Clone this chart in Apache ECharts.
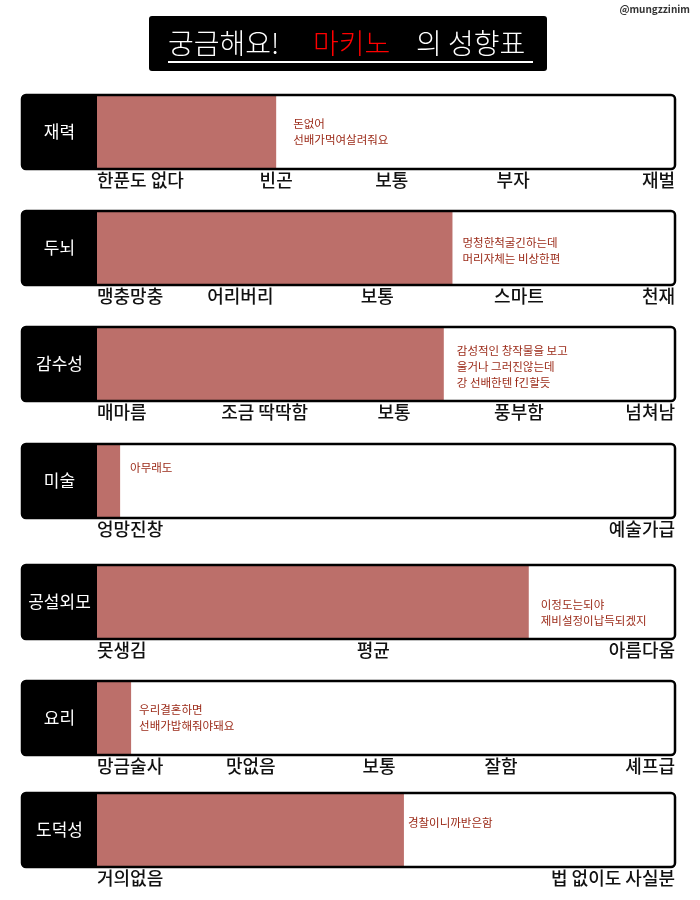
<!DOCTYPE html>
<html><head><meta charset="utf-8">
<script src="https://cdn.jsdelivr.net/npm/echarts@6/dist/echarts.min.js"></script>
<style>html,body{margin:0;padding:0;background:#fff}#c{width:700px;height:900px}</style>
</head><body><div id="c"></div>
<script>
// ---- data ----
const rows = ['재력','두뇌','감수성','미술','공설외모','요리','도덕성'];
const values = [31, 61.5, 60, 4, 74.7, 5.9, 53.1];
const notes = [
  '돈없어\n선배가먹여살려줘요',
  '멍청한척굴긴하는데\n머리자체는 비상한편',
  '감성적인 창작물을 보고\n울거나 그러진않는데\n강 선배한텐 f긴할듯',
  '아무래도',
  '이정도는되야\n제비설정이납득되겠지',
  '우리결혼하면\n선배가밥해줘야돼요',
  '경찰이니까반은함'
];
const tickLabels = [
  ['한푼도 없다','빈곤','보통','부자','재벌'],
  ['맹충망충','어리버리','보통','스마트','천재'],
  ['매마름','조금 딱딱함','보통','풍부함','넘쳐남'],
  ['엉망진창','예술가급'],
  ['못생김','평균','아름다움'],
  ['망금술사','맛없음','보통','잘함','셰프급'],
  ['거의없음','법 없이도 사실분']
];
const tickValues = [
  [0, 31, 51, 72, 100],
  [0, 24.8, 48.5, 73, 100],
  [0, 29, 51.4, 73, 100],
  [0, 100],
  [0, 47.8, 100],
  [0, 26.6, 48.8, 69.9, 100],
  [0, 100]
];
const titleParts = ['궁금해요!', '마키노', '의 성향표'];
const credit = '@mungzzinim';

// ---- layout ----
const tops = [95, 211, 327, 444, 565, 681, 793];
const boxH = 74, plotLeft = 97, plotRight = 25, boxLeft = 22, boxRight = 675;
const noteOff = [[17,21],[10,24],[13,16],[10,16],[12,32],[8,21],[4,22]];
const FONT = '"Noto Sans CJK KR", "Noto Sans", sans-serif';
const barColor = '#bc6f6a';
const noteColor = '#9b2a18';

const grid = [], xAxis = [], yAxis = [], series = [], graphic = [];
rows.forEach((name, i) => {
  grid.push({left: plotLeft, right: plotRight, top: tops[i], height: boxH, containLabel: false});
  xAxis.push({
    type: 'value', gridIndex: i, min: 0, max: 100,
    axisLine: {show: false}, axisTick: {show: false}, splitLine: {show: false},
    axisLabel: {
      show: true, customValues: tickValues[i], showMinLabel: true, showMaxLabel: true,
      alignMinLabel: 'left', alignMaxLabel: 'right',
      margin: 2, color: '#111', fontSize: 18, fontWeight: 500, fontFamily: FONT,
      formatter: v => { const k = tickValues[i].indexOf(v); return k >= 0 ? tickLabels[i][k] : ''; }
    }
  });
  yAxis.push({
    type: 'category', gridIndex: i, data: [name],
    axisLine: {show: false}, axisTick: {show: false}, splitLine: {show: false},
    axisLabel: {
      margin: 0, formatter: '{a|{value}}',
      rich: {a: {width: plotLeft - boxLeft, height: boxH, lineHeight: boxH, align: 'center',
        backgroundColor: '#000', color: '#fff', fontSize: 17, fontFamily: FONT, borderRadius: [4,0,0,4]}}
    }
  });
  series.push({
    type: 'bar', xAxisIndex: i, yAxisIndex: i, data: [values[i]],
    barWidth: '100%', itemStyle: {color: barColor},
    label: {
      show: true, position: ['100%', noteOff[i][1]], offset: [noteOff[i][0], 0],
      formatter: () => notes[i], color: noteColor, fontSize: 11.5, lineHeight: 16,
      fontFamily: FONT, align: 'left', verticalAlign: 'top'
    },
    silent: true, animation: false
  });
  graphic.push({
    type: 'rect', z: 100,
    shape: {x: boxLeft, y: tops[i], width: boxRight - boxLeft, height: boxH, r: 4},
    style: {fill: 'none', stroke: '#000', lineWidth: 2.5}
  });
});

// title block
graphic.push({type: 'rect', z: 10, shape: {x: 149, y: 16, width: 398, height: 55, r: 3}, style: {fill: '#000'}});
graphic.push({type: 'text', z: 11, x: 168, y: 43, style: {text: titleParts[0], fill: '#fff', font: '300 28px ' + FONT, textVerticalAlign: 'middle'}});
graphic.push({type: 'text', z: 11, x: 313, y: 43, style: {text: titleParts[1], fill: '#ff0000', font: '300 28px ' + FONT, textVerticalAlign: 'middle'}});
graphic.push({type: 'text', z: 11, x: 416, y: 43, style: {text: titleParts[2], fill: '#fff', font: '300 28px ' + FONT, textVerticalAlign: 'middle'}});
graphic.push({type: 'line', z: 11, shape: {x1: 168, y1: 62, x2: 533, y2: 62}, style: {stroke: '#fff', lineWidth: 2}});
graphic.push({type: 'text', z: 11, x: 690, y: 9, style: {text: credit, fill: '#333', font: 'bold 10px ' + FONT, textAlign: 'right', textVerticalAlign: 'middle'}});

const chart = echarts.init(document.getElementById('c'));
chart.setOption({animation: false, backgroundColor: '#fff', grid, xAxis, yAxis, series, graphic});
</script></body></html>
